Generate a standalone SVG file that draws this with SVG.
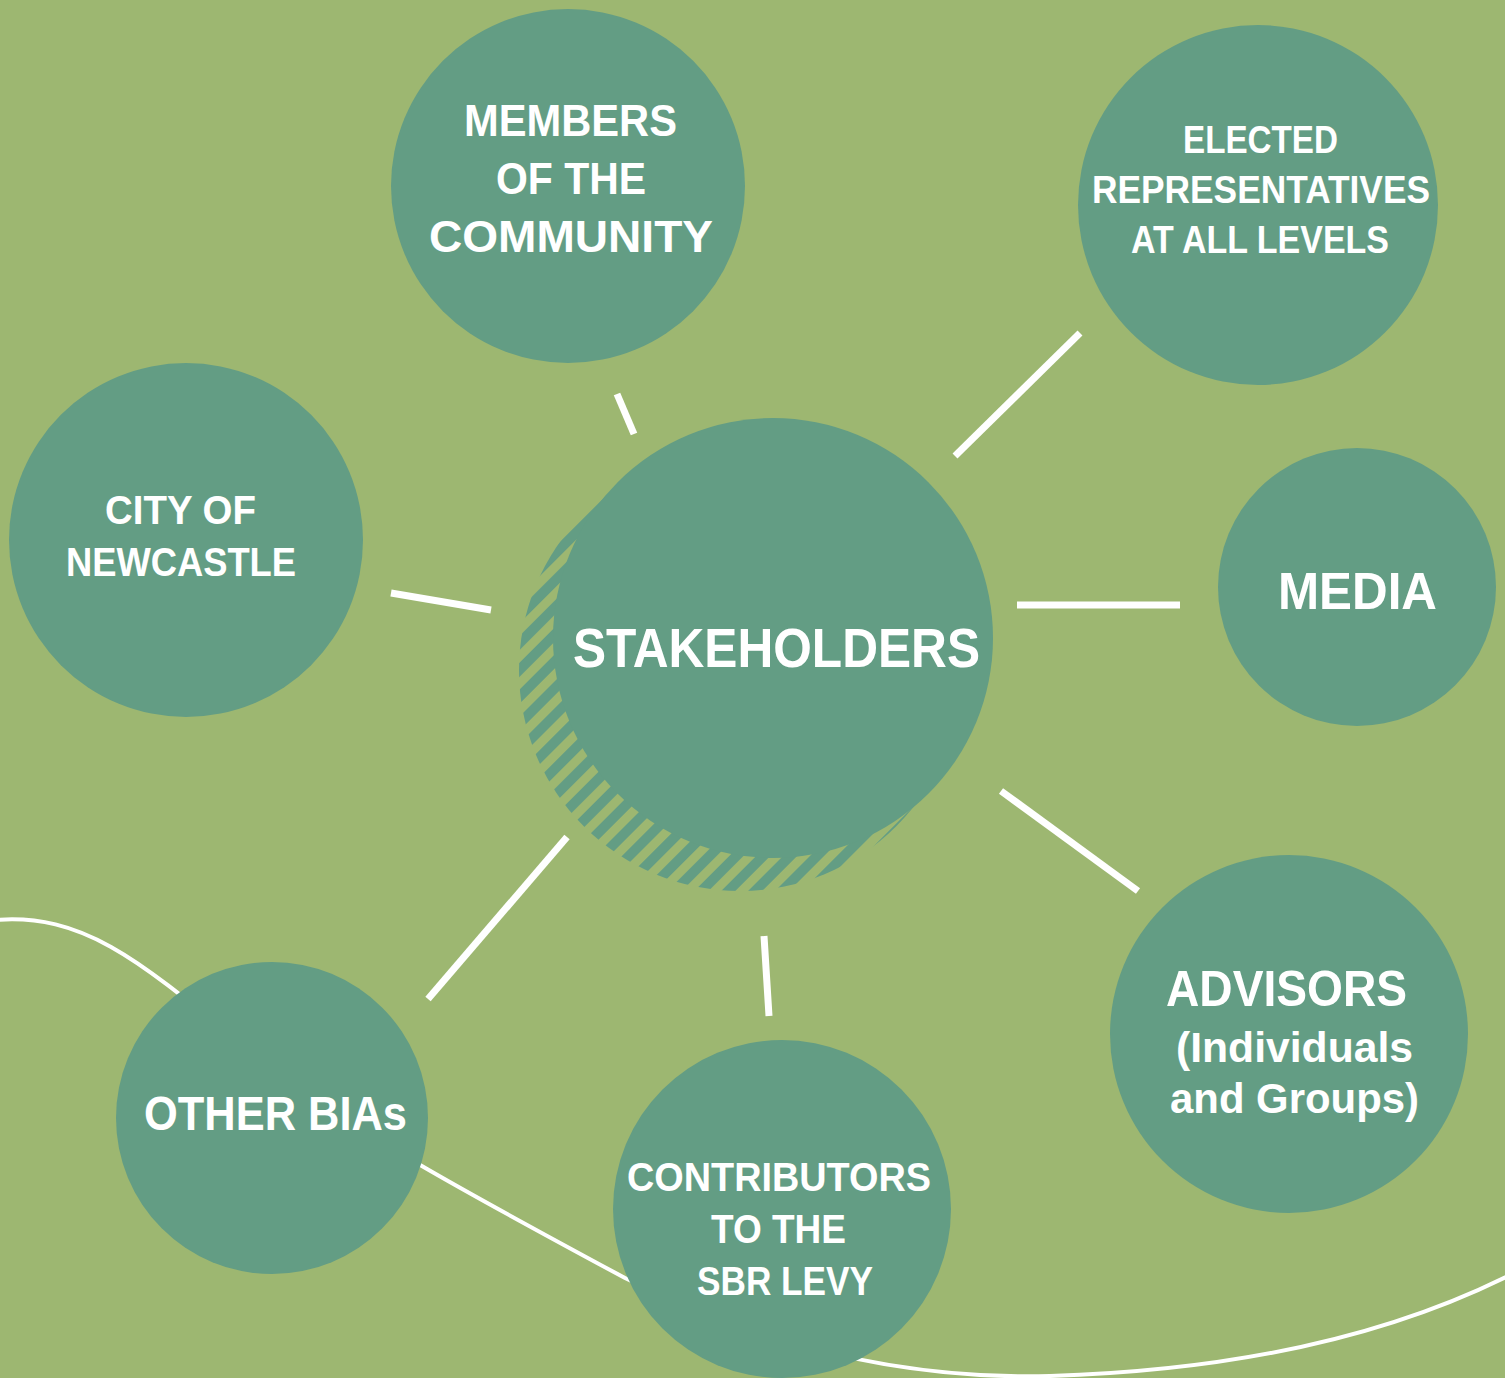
<svg xmlns="http://www.w3.org/2000/svg" width="1505" height="1378" viewBox="0 0 1505 1378">
<defs>
<style>
.node{fill:#639d84}
.t{fill:#ffffff;font-family:"Liberation Sans",Arial,sans-serif;font-weight:bold}
.conn line{stroke:#ffffff;stroke-width:7}
.curve{fill:none;stroke:#ffffff;stroke-width:4}
</style>
<pattern id="hatch" patternUnits="userSpaceOnUse" width="19" height="19" patternTransform="rotate(45)">
<rect x="0" y="0" width="10" height="19" fill="#639d84"/>
</pattern>
</defs>
<rect x="0" y="0" width="1505" height="1378" fill="#9db771"/>
<path class="curve" d="M-5,920 C90,912 150,970 260,1060 C350,1130 480,1200 625,1278 C760,1345 900,1380 1050,1376 C1250,1370 1400,1330 1510,1275"/>
<g class="conn" id="connectors">
<line x1="617" y1="394" x2="634" y2="434"/>
<line x1="955" y1="456" x2="1080" y2="333"/>
<line x1="391" y1="593" x2="491" y2="610"/>
<line x1="1017" y1="605" x2="1180" y2="605"/>
<line x1="1001" y1="791" x2="1138" y2="891"/>
<line x1="764" y1="936" x2="769" y2="1016"/>
<line x1="567" y1="837" x2="428" y2="999"/>
</g>
<g id="stakeholders">
<circle cx="740" cy="670" r="221" fill="url(#hatch)"/>
<circle class="node" cx="773" cy="638" r="220"/>
<text class="t" x="573" y="667" font-size="55" textLength="407" lengthAdjust="spacingAndGlyphs">STAKEHOLDERS</text>
</g>
<g id="members">
<circle class="node" cx="568" cy="186" r="177"/>
<text class="t" x="464" y="136" font-size="45" textLength="213" lengthAdjust="spacingAndGlyphs">MEMBERS</text>
<text class="t" x="496" y="194" font-size="45" textLength="150" lengthAdjust="spacingAndGlyphs">OF THE</text>
<text class="t" x="429" y="252" font-size="45" textLength="284" lengthAdjust="spacingAndGlyphs">COMMUNITY</text>
</g>
<g id="elected">
<circle class="node" cx="1258" cy="205" r="180"/>
<text class="t" x="1183" y="153" font-size="39" textLength="155" lengthAdjust="spacingAndGlyphs">ELECTED</text>
<text class="t" x="1092" y="203" font-size="39" textLength="338" lengthAdjust="spacingAndGlyphs">REPRESENTATIVES</text>
<text class="t" x="1131" y="253" font-size="39" textLength="258" lengthAdjust="spacingAndGlyphs">AT ALL LEVELS</text>
</g>
<g id="city">
<circle class="node" cx="186" cy="540" r="177"/>
<text class="t" x="105" y="524" font-size="40" textLength="151" lengthAdjust="spacingAndGlyphs">CITY OF</text>
<text class="t" x="66" y="576" font-size="40" textLength="230" lengthAdjust="spacingAndGlyphs">NEWCASTLE</text>
</g>
<g id="media">
<circle class="node" cx="1357" cy="587" r="139"/>
<text class="t" x="1278" y="609" font-size="51" textLength="159" lengthAdjust="spacingAndGlyphs">MEDIA</text>
</g>
<g id="advisors">
<circle class="node" cx="1289" cy="1034" r="179"/>
<text class="t" x="1166" y="1006" font-size="50" textLength="241" lengthAdjust="spacingAndGlyphs">ADVISORS</text>
<text class="t" x="1176" y="1062" font-size="42" textLength="237" lengthAdjust="spacingAndGlyphs">(Individuals</text>
<text class="t" x="1170" y="1113" font-size="42" textLength="249" lengthAdjust="spacingAndGlyphs">and Groups)</text>
</g>
<g id="contributors">
<circle class="node" cx="782" cy="1209" r="169"/>
<text class="t" x="627" y="1191" font-size="40" textLength="304" lengthAdjust="spacingAndGlyphs">CONTRIBUTORS</text>
<text class="t" x="711" y="1243" font-size="40" textLength="135" lengthAdjust="spacingAndGlyphs">TO THE</text>
<text class="t" x="697" y="1295" font-size="40" textLength="176" lengthAdjust="spacingAndGlyphs">SBR LEVY</text>
</g>
<g id="other-bias">
<circle class="node" cx="272" cy="1118" r="156"/>
<text class="t" x="144" y="1130" font-size="48" textLength="263" lengthAdjust="spacingAndGlyphs">OTHER BIAs</text>
</g>
</svg>
